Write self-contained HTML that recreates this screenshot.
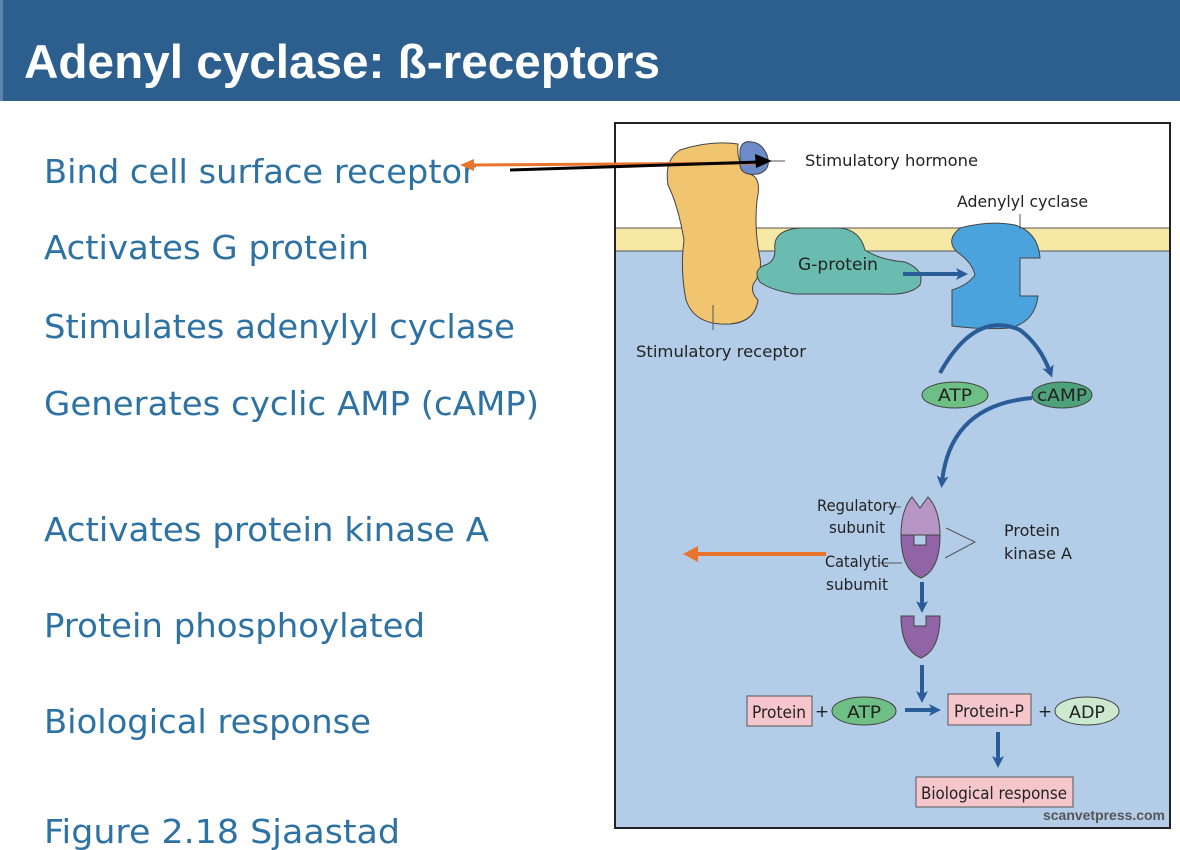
<!DOCTYPE html>
<html><head><meta charset="utf-8"><style>
html,body{margin:0;padding:0;background:#fff;width:1180px;height:850px;overflow:hidden}
svg{display:block}
</style></head><body>
<svg width="1180" height="850" viewBox="0 0 1180 850" xmlns="http://www.w3.org/2000/svg">
<defs>
<marker id="bl" markerWidth="12" markerHeight="12" refX="6" refY="6" orient="auto" markerUnits="userSpaceOnUse"><path d="M0,0 L12,6 L0,12 L3,6 Z" fill="#2a5d98"/></marker>
</defs>
<rect x="0" y="0" width="1180" height="101" fill="#2d5f8e"/>
<rect x="0" y="0" width="3" height="101" fill="#5d83ab"/>
<text x="24" y="78" font-family="Liberation Sans, sans-serif" font-weight="bold" font-size="47" fill="#fff" textLength="636" lengthAdjust="spacingAndGlyphs">Adenyl cyclase: ß-receptors</text>

<g font-family="DejaVu Sans, sans-serif" font-size="33" fill="#2e72a3">
<text x="44" y="183" textLength="432" lengthAdjust="spacingAndGlyphs">Bind cell surface receptor</text>
<text x="44" y="259" textLength="325" lengthAdjust="spacingAndGlyphs">Activates G protein</text>
<text x="44" y="338" textLength="471" lengthAdjust="spacingAndGlyphs">Stimulates adenylyl cyclase</text>
<text x="44" y="415" textLength="495" lengthAdjust="spacingAndGlyphs">Generates cyclic AMP (cAMP)</text>
<text x="44" y="541" textLength="445" lengthAdjust="spacingAndGlyphs">Activates protein kinase A</text>
<text x="44" y="637" textLength="381" lengthAdjust="spacingAndGlyphs">Protein phosphoylated</text>
<text x="44" y="733" textLength="327" lengthAdjust="spacingAndGlyphs">Biological response</text>
<text x="44" y="843" textLength="356" lengthAdjust="spacingAndGlyphs">Figure 2.18 Sjaastad</text>
</g>

<rect x="615" y="123" width="555" height="705" fill="#fff" stroke="#222" stroke-width="2"/>
<rect x="616" y="251" width="553" height="576" fill="#b3cde9"/>
<rect x="616" y="228" width="553" height="23" fill="#f8e8a6"/>
<line x1="616" y1="228" x2="1169" y2="228" stroke="#555" stroke-width="1"/>
<line x1="616" y1="251" x2="1169" y2="251" stroke="#555" stroke-width="1"/>

<path d="M680,150 Q710,140 738,144 Q736,165 750,174 Q762,178 757,200 Q754,230 760,258 Q762,270 756,280 Q748,290 758,300 Q755,322 730,324 Q695,326 686,300 Q680,270 684,240 Q678,205 668,185 Q664,160 680,150 Z" fill="#f1c46f" stroke="#444" stroke-width="1"/>
<line x1="713" y1="305" x2="713" y2="330" stroke="#555"/>
<path d="M740,150 Q742,140 752,142 Q762,143 767,155 Q772,170 758,174 Q742,176 740,166 Z" fill="#6d8bc8" stroke="#444" stroke-width="1"/>
<line x1="768" y1="161" x2="785" y2="161" stroke="#555"/>

<path d="M775,250 Q772,230 800,228 L840,228 Q860,230 865,250 Q880,260 905,262 Q925,270 920,285 Q910,296 880,294 L795,294 Q770,290 760,282 Q752,270 765,265 Q775,262 775,250 Z" fill="#6bbcb0" stroke="#444" stroke-width="1"/>
<path d="M960,228 Q990,220 1015,225 Q1038,232 1040,258 L1020,258 L1020,296 L1038,296 Q1035,322 1010,328 Q985,330 952,326 L952,290 Q968,285 975,275 Q972,262 957,252 Q945,240 960,228 Z" fill="#4aa3dc" stroke="#444" stroke-width="1"/>
<line x1="1020" y1="214" x2="1020" y2="229" stroke="#555"/>
<line x1="903" y1="274" x2="962" y2="274" stroke="#2a5d98" stroke-width="4" marker-end="url(#bl)"/>

<g font-family="DejaVu Sans, sans-serif" font-size="16" fill="#222">
<text x="805" y="166" textLength="173" lengthAdjust="spacingAndGlyphs">Stimulatory hormone</text>
<text x="957" y="207" textLength="131" lengthAdjust="spacingAndGlyphs">Adenylyl cyclase</text>
<text x="798" y="270" font-size="17" textLength="80" lengthAdjust="spacingAndGlyphs">G-protein</text>
<text x="636" y="357" textLength="170" lengthAdjust="spacingAndGlyphs">Stimulatory receptor</text>
</g>

<path d="M940,373 Q975,310 1020,330 Q1040,345 1050,372" fill="none" stroke="#2a5d98" stroke-width="4" marker-end="url(#bl)"/>
<ellipse cx="955" cy="395" rx="33" ry="13" fill="#6dbf85" stroke="#444"/>
<ellipse cx="1062" cy="395" rx="30" ry="13" fill="#4ea27a" stroke="#444"/>
<g font-family="DejaVu Sans, sans-serif" font-size="17" fill="#222" text-anchor="middle">
<text x="955" y="401" textLength="34" lengthAdjust="spacingAndGlyphs">ATP</text>
<text x="1062" y="401" textLength="50" lengthAdjust="spacingAndGlyphs">cAMP</text>
</g>
<path d="M1032,398 Q950,405 942,482" fill="none" stroke="#2a5d98" stroke-width="4" marker-end="url(#bl)"/>

<path d="M912,497 L920,508 L928,497 Q940,510 940,535 L901,535 Q901,510 912,497 Z" fill="#b796c5" stroke="#444"/>
<path d="M901,535 L914,535 L914,545 L926,545 L926,535 L940,535 Q940,570 921,578 Q901,570 901,535 Z" fill="#9164a6" stroke="#444"/>
<line x1="888" y1="507" x2="901" y2="507" stroke="#555"/>
<line x1="879" y1="563" x2="902" y2="563" stroke="#555"/>
<path d="M946,528 L975,542 L945,558" fill="none" stroke="#555"/>
<g font-family="DejaVu Sans, sans-serif" font-size="16" fill="#222">
<text x="857" y="511" text-anchor="middle" textLength="80" lengthAdjust="spacingAndGlyphs">Regulatory</text>
<text x="857" y="533" text-anchor="middle" textLength="56" lengthAdjust="spacingAndGlyphs">subunit</text>
<text x="857" y="567" text-anchor="middle" textLength="64" lengthAdjust="spacingAndGlyphs">Catalytic</text>
<text x="857" y="590" text-anchor="middle" textLength="62" lengthAdjust="spacingAndGlyphs">subumit</text>
<text x="1004" y="536" textLength="56" lengthAdjust="spacingAndGlyphs">Protein</text>
<text x="1004" y="559" textLength="68" lengthAdjust="spacingAndGlyphs">kinase A</text>
</g>
<line x1="922" y1="582" x2="922" y2="607" stroke="#2a5d98" stroke-width="4" marker-end="url(#bl)"/>
<path d="M901,616 L914,616 L914,626 L926,626 L926,616 L940,616 Q940,650 921,658 Q901,650 901,616 Z" fill="#9164a6" stroke="#444"/>
<line x1="922" y1="665" x2="922" y2="697" stroke="#2a5d98" stroke-width="4" marker-end="url(#bl)"/>

<rect x="747" y="696" width="65" height="30" fill="#f5c6cb" stroke="#555"/>
<ellipse cx="864" cy="711" rx="32" ry="14" fill="#6dbf85" stroke="#444"/>
<line x1="905" y1="710" x2="935" y2="710" stroke="#2a5d98" stroke-width="4" marker-end="url(#bl)"/>
<rect x="948" y="694" width="83" height="31" fill="#f5c6cb" stroke="#555"/>
<ellipse cx="1087" cy="711" rx="32" ry="14" fill="#cce8cf" stroke="#444"/>
<line x1="998" y1="732" x2="998" y2="762" stroke="#2a5d98" stroke-width="4" marker-end="url(#bl)"/>
<rect x="916" y="777" width="157" height="30" fill="#f5c6cb" stroke="#555"/>
<g font-family="DejaVu Sans, sans-serif" font-size="17" fill="#222">
<text x="779" y="718" text-anchor="middle" textLength="54" lengthAdjust="spacingAndGlyphs">Protein</text>
<text x="822" y="717" text-anchor="middle">+</text>
<text x="864" y="718" text-anchor="middle" textLength="34" lengthAdjust="spacingAndGlyphs">ATP</text>
<text x="989" y="717" text-anchor="middle" textLength="70" lengthAdjust="spacingAndGlyphs">Protein-P</text>
<text x="1045" y="717" text-anchor="middle">+</text>
<text x="1087" y="718" text-anchor="middle" textLength="36" lengthAdjust="spacingAndGlyphs">ADP</text>
<text x="994" y="799" text-anchor="middle" textLength="146" lengthAdjust="spacingAndGlyphs">Biological response</text>
</g>
<text x="1165" y="820" text-anchor="end" font-family="Liberation Sans, sans-serif" font-weight="bold" font-size="14" fill="#555" textLength="122" lengthAdjust="spacingAndGlyphs">scanvetpress.com</text>

<line x1="470" y1="165" x2="760" y2="163" stroke="#e8742d" stroke-width="3"/>
<path d="M460,165 L474,159 L474,171 Z" fill="#e8742d"/>
<line x1="510" y1="170" x2="760" y2="162" stroke="#000" stroke-width="3"/>
<path d="M772,161 L755,154 L756,168 Z" fill="#000"/>
<line x1="697" y1="554" x2="826" y2="554" stroke="#e8742d" stroke-width="4"/>
<path d="M683,554 L698,546 L698,562 Z" fill="#e8742d"/>
</svg>
</body></html>
